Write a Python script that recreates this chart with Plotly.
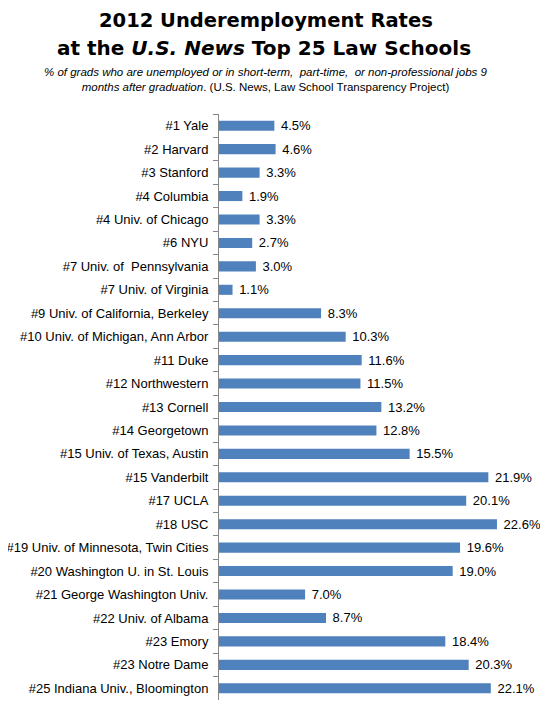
import plotly.graph_objects as go

# Data
schools = [
    "#1 Yale", "#2 Harvard", "#3 Stanford", "#4 Columbia", "#4 Univ. of Chicago",
    "#6 NYU", "#7 Univ. of  Pennsylvania", "#7 Univ. of Virginia",
    "#9 Univ. of California, Berkeley", "#10 Univ. of Michigan, Ann Arbor",
    "#11 Duke", "#12 Northwestern", "#13 Cornell", "#14 Georgetown",
    "#15 Univ. of Texas, Austin", "#15 Vanderbilt", "#17 UCLA", "#18 USC",
    "#19 Univ. of Minnesota, Twin Cities", "#20 Washington U. in St. Louis",
    "#21 George Washington Univ.", "#22 Univ. of Albama", "#23 Emory",
    "#23 Notre Dame", "#25 Indiana Univ., Bloomington",
]
rates = [4.5, 4.6, 3.3, 1.9, 3.3, 2.7, 3.0, 1.1, 8.3, 10.3, 11.6, 11.5, 13.2,
         12.8, 15.5, 21.9, 20.1, 22.6, 19.6, 19.0, 7.0, 8.7, 18.4, 20.3, 22.1]

FONT = "Liberation Sans, Arial"
TITLE_FONT = "DejaVu Sans, Arial"
# the page body adds an 8px margin, so the figure is drawn 8px smaller
OFF = 8
LEFT, TOP, PLOT_H, PLOT_W = 219 - OFF, 114 - OFF, 586, 329


def ypaper(px):
    # pixel row in the reference -> paper coordinate
    return 1 + (TOP - (px - OFF)) / PLOT_H


def xpaper(px):
    return (px - OFF - LEFT) / PLOT_W


fig = go.Figure()

fig.add_trace(go.Bar(
    x=rates,
    y=schools,
    orientation="h",
    marker=dict(color="#4F81BD", line=dict(width=0)),
    texttemplate="\u00a0%{x:.1f}%",
    textposition="outside",
    constraintext="none",
    textfont=dict(family=FONT, size=13, color="#000000"),
    cliponaxis=False,
    hoverinfo="skip",
))

fig.update_layout(
    width=LEFT + PLOT_W,
    height=TOP + PLOT_H + 2,
    margin=dict(l=LEFT, r=0, t=TOP, b=2),
    paper_bgcolor="white",
    plot_bgcolor="white",
    showlegend=False,
    bargap=0.57,
    uniformtext=dict(minsize=13, mode="show"),
    font=dict(family=FONT, size=13, color="#000000"),
    annotations=[
        dict(text="<b>2012 Underemployment Rates</b>",
             xref="paper", yref="paper", x=xpaper(266), y=ypaper(20),
             xanchor="center", yanchor="middle", showarrow=False,
             font=dict(family=TITLE_FONT, size=19.5, color="#000000")),
        dict(text="<b>at the <i>U.S. News</i> Top 25 Law Schools</b>",
             xref="paper", yref="paper", x=xpaper(264), y=ypaper(48),
             xanchor="center", yanchor="middle", showarrow=False,
             font=dict(family=TITLE_FONT, size=20, color="#000000")),
        dict(text="<i>% of grads who are unemployed or in short-term,  part-time,  or non-professional jobs 9<br>"
                  "months after graduation</i>. (U.S. News, Law School Transparency Project)",
             xref="paper", yref="paper", x=xpaper(266), y=ypaper(79),
             xanchor="center", yanchor="middle", showarrow=False,
             font=dict(family=FONT, size=11.5, color="#000000")),
    ],
)

fig.update_xaxes(
    range=[0, 26.75],
    visible=False,
    showgrid=False,
    automargin=False,
)

fig.update_yaxes(
    autorange="reversed",
    automargin=False,
    showline=True,
    linecolor="#868686",
    linewidth=1,
    ticks="outside",
    tickson="boundaries",
    ticklen=5,
    tickcolor="#868686",
    ticklabelstandoff=7,
    showgrid=False,
    tickfont=dict(family=FONT, size=13, color="#000000"),
)

fig.write_html("out.html")
